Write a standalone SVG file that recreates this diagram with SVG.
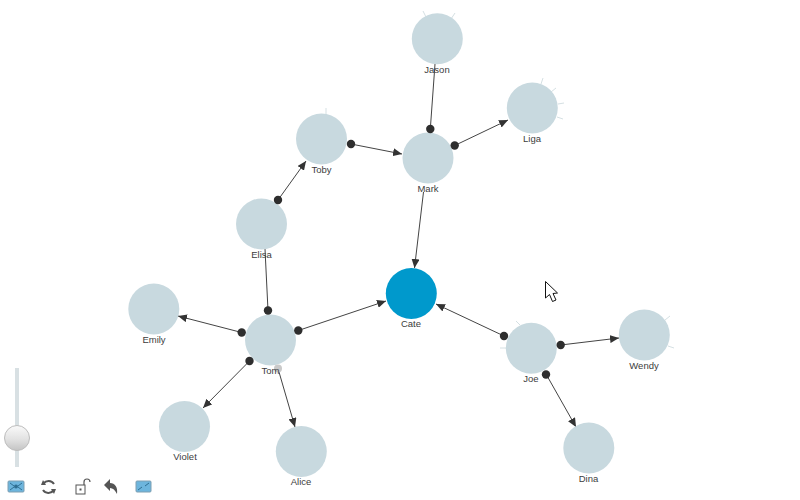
<svg xmlns="http://www.w3.org/2000/svg" width="800" height="500" viewBox="0 0 800 500">
<defs>
<marker id="arrow" viewBox="0 0 9 8" refX="9" refY="4" markerWidth="9" markerHeight="8" markerUnits="userSpaceOnUse" orient="auto"><path d="M0 0L9 4L0 8Z" fill="#333"/></marker>
<linearGradient id="knob" x1="0" y1="0" x2="0" y2="1"><stop offset="0" stop-color="#fafafa"/><stop offset="0.55" stop-color="#e2e2e2"/><stop offset="1" stop-color="#c4c4c4"/></linearGradient>
</defs>
<style>
.n{fill:#c8d9df}
.c{fill:#0099cc}
.t{stroke:#d5e0e3;stroke-width:1;fill:none}
.l{font:9.500px "Liberation Sans",Arial,sans-serif;fill:#3c3c3c;text-anchor:middle}
.e{stroke:#444;stroke-width:1;fill:none;marker-end:url(#arrow)}
.p{stroke:#444;stroke-width:1;fill:none}
.d{fill:#2e2e2e}
.i{fill:#555}
.b{fill:#6db5dd;stroke:#7e9fb2}
</style>
<rect width="800" height="500" fill="#fff"/>
<g id="connectors">
<path class="p" d="M435 64L430.300 129"/>
<path class="e" d="M454.700 145.500L508 120"/>
<path class="e" d="M351 144L402 154"/>
<path class="e" d="M278 200L306 161"/>
<path class="e" d="M423.500 192L414.500 268"/>
<path class="p" d="M265 249L268 310.500"/>
<path class="e" d="M241.700 332.500L178 316"/>
<path class="e" d="M298.300 330.500L386 301"/>
<path class="e" d="M249.500 361L203 408"/>
<path class="e" d="M279 372L295 427"/>
<path class="e" d="M504 336L436 304"/>
<path class="e" d="M560.700 345L619 338"/>
<path class="e" d="M546 374L576 427"/>
</g>
<g id="jason"><path class="t" d="M423 11L426 17M455 13L451 19"/><circle class="n" cx="437.300" cy="38.700" r="25.500"/><text class="l" x="437" y="73">Jason</text></g>
<g id="liga"><path class="t" d="M543 78L541 84M556 88L551 92M564 103L558 104M563 119L557 117"/><circle class="n" cx="532.300" cy="108" r="25.500"/><text class="l" x="532" y="142">Liga</text></g>
<g id="mark"><circle class="n" cx="428" cy="158" r="25.500"/><text class="l" x="428" y="192">Mark</text><circle class="d" cx="430.300" cy="129" r="4.200"/><circle class="d" cx="454.700" cy="145.500" r="4.200"/></g>
<g id="toby"><path class="t" d="M326 108L326 114"/><circle class="n" cx="321.500" cy="139" r="25.500"/><text class="l" x="321.500" y="173">Toby</text><circle class="d" cx="351" cy="144" r="4.200"/></g>
<g id="elisa"><circle class="n" cx="261.500" cy="224" r="25.500"/><text class="l" x="261.500" y="258">Elisa</text><circle class="d" cx="278" cy="200" r="4.200"/></g>
<g id="emily"><circle class="n" cx="153.800" cy="309" r="25.500"/><text class="l" x="154" y="343">Emily</text></g>
<g id="tom"><circle class="n" cx="270.500" cy="340" r="25.500"/><circle cx="278" cy="368.500" r="4" fill="#c9c9c9"/><text class="l" x="270.500" y="374">Tom</text><circle class="d" cx="268" cy="310.500" r="4.200"/><circle class="d" cx="241.700" cy="332.500" r="4.200"/><circle class="d" cx="298.300" cy="330.500" r="4.200"/><circle class="d" cx="249.500" cy="361" r="4.200"/></g>
<g id="violet"><circle class="n" cx="184.500" cy="426.500" r="25.500"/><text class="l" x="185" y="460">Violet</text></g>
<g id="alice"><circle class="n" cx="301.300" cy="451.500" r="25.500"/><text class="l" x="301" y="485">Alice</text></g>
<g id="cate"><circle class="c" cx="411.300" cy="293.500" r="25.500"/><text class="l" x="411" y="327">Cate</text></g>
<g id="joe"><path class="t" d="M516 321L520 325M500 348L506 348"/><circle class="n" cx="531.300" cy="348.300" r="25.500"/><text class="l" x="531" y="382">Joe</text><circle class="d" cx="504" cy="336" r="4.200"/><circle class="d" cx="560.700" cy="345" r="4.200"/><circle class="d" cx="546" cy="374.500" r="4.200"/></g>
<g id="wendy"><path class="t" d="M670 316L665 320M674 348L668 346"/><circle class="n" cx="644.300" cy="335" r="25.500"/><text class="l" x="644" y="369">Wendy</text></g>
<g id="dina"><circle class="n" cx="588.800" cy="448" r="25.500"/><text class="l" x="588.500" y="482">Dina</text></g>
<path id="cursor" d="M545.500 281.500V298L549.500 294.500L552.500 301.500L556 300L553 293.500L557.500 293Z" fill="#fff" stroke="#111" stroke-width="1"/>
<g id="toolbar">
<rect x="15" y="368" width="4" height="99" fill="#d8e0e3"/>
<circle cx="17" cy="438" r="12.500" fill="url(#knob)" stroke="#bdbdbd"/>
<rect class="b" x="8" y="481" width="16" height="11" rx="1"/>
<path d="M10 483L14 486M22 483L18 486M10 490L14 487M22 490L18 487" stroke="#2f6f93" fill="none"/><circle cx="16" cy="486.500" r="2" fill="#2f6f93"/>
<path d="M43.500 483.500A6.500 6.500 0 0 1 54 484M53.500 490.500A6.500 6.500 0 0 1 43 490" fill="none" stroke="#555" stroke-width="2"/>
<path class="i" d="M41 485L46 485L43 480ZM56 489L51 489L54 494Z"/>
<rect x="76" y="485" width="9" height="9" fill="#fff" stroke="#555"/><rect x="79.500" y="488.500" width="2" height="2" fill="#555"/>
<path d="M84 485V482A3 3 0 0 1 90 482" fill="none" stroke="#555" stroke-width="1.200"/>
<path class="i" d="M104 485L110 479V483C115 483 118 487 117 494C115 490 113 488 110 488V491Z"/>
<rect class="b" x="136" y="481" width="15" height="11" rx="1"/>
<path d="M138 490L142 487M149 483L145 486" stroke="#2f6f93" fill="none"/>
</g>
</svg>
